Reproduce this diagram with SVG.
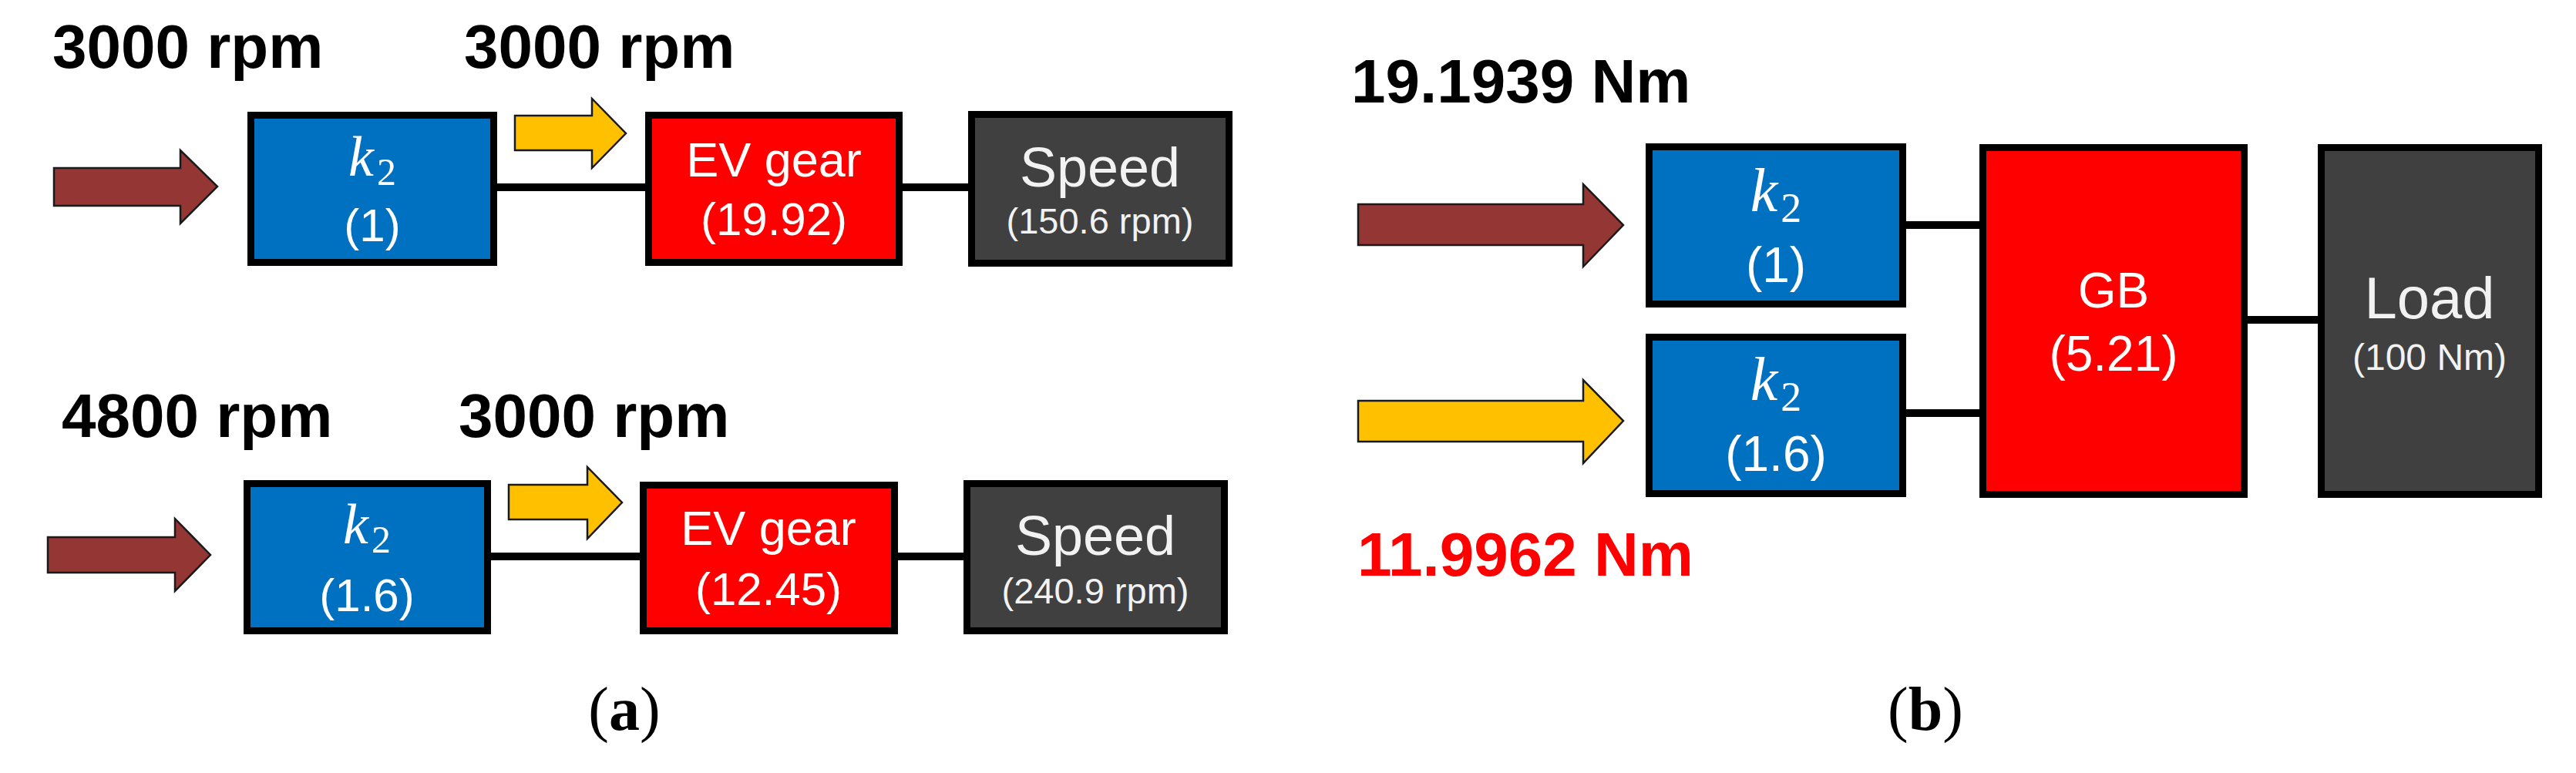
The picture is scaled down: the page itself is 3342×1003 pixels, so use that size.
<svg xmlns="http://www.w3.org/2000/svg" width="3342" height="1003" viewBox="0 0 3342 1003">
<style>
.box{stroke:#000;stroke-width:9}
.blue{fill:#0070C0}
.red{fill:#FF0000}
.dark{fill:#404040}
.brown{fill:#943634;stroke:#1a1a1a;stroke-width:2.5}
.yellow{fill:#FFC000;stroke:#1a1a1a;stroke-width:2.5}
.wire{stroke:#000;stroke-width:10;fill:none}
.lbl{font-family:"Liberation Sans",Arial,sans-serif;font-weight:bold;font-size:80px;fill:#000}
.t{font-family:"Liberation Sans",Arial,sans-serif;fill:#fff;text-anchor:middle}
.tg{font-family:"Liberation Sans",Arial,sans-serif;fill:#f2f2f2;text-anchor:middle}
.k{font-family:"Liberation Serif","Times New Roman",serif;fill:#fff;text-anchor:middle}
.cap{font-family:"Liberation Serif","Times New Roman",serif;font-size:80px;fill:#000;text-anchor:middle}
</style>
<rect x="0" y="0" width="3342" height="1003" fill="#fff"/>

<g id="connectors">
<line class="wire" x1="645" y1="243" x2="837" y2="243"/>
<line class="wire" x1="1171" y1="243" x2="1257" y2="243"/>
<line class="wire" x1="637" y1="722" x2="830" y2="722"/>
<line class="wire" x1="1165" y1="722" x2="1250" y2="722"/>
<line class="wire" x1="2473" y1="292" x2="2568" y2="292"/>
<line class="wire" x1="2473" y1="536" x2="2568" y2="536"/>
<line class="wire" x1="2916" y1="415" x2="3007" y2="415"/>
</g>

<g id="arrows">
<polygon id="arrow-a1-in" class="brown" points="70,218 234,218 234,195 282,242 234,290 234,267 70,267"/>
<polygon id="arrow-a1-out" class="yellow" points="668,150 768,150 768,128 812,173 768,218 768,195 668,195"/>
<polygon id="arrow-a2-in" class="brown" points="62,697 227,697 227,673 273,720 227,767 227,743 62,743"/>
<polygon id="arrow-a2-out" class="yellow" points="660,629 762,629 762,606 807,652 762,699 762,674 660,674"/>
<polygon id="arrow-b-top" class="brown" points="1762,265 2054,265 2054,239 2106,292 2054,346 2054,318 1762,318"/>
<polygon id="arrow-b-bot" class="yellow" points="1762,520 2054,520 2054,493 2106,546 2054,601 2054,573 1762,573"/>
</g>

<g id="labels">
<text class="lbl" x="68" y="88">3000 rpm</text>
<text class="lbl" x="602" y="88">3000 rpm</text>
<text class="lbl" x="80" y="567">4800 rpm</text>
<text class="lbl" x="595" y="567">3000 rpm</text>
<text class="lbl" x="1753" y="133" font-size="84">19.1939 Nm</text>
<text class="lbl" x="1761" y="747" font-size="84" fill="#FF0000" style="fill:#FF0000">11.9962 Nm</text>
<text class="cap" x="810" y="947">(<tspan font-weight="bold">a</tspan>)</text>
<text class="cap" x="2498" y="947">(<tspan font-weight="bold">b</tspan>)</text>
</g>

<g id="k2-a1">
<rect class="box blue" x="325.5" y="149.5" width="315" height="191"/>
<text class="k" x="483" y="228"><tspan font-style="italic" font-size="74">k</tspan><tspan font-size="50" dx="4" dy="12">2</tspan></text>
<text class="t" x="483" y="313" font-size="60">(1)</text>
</g>

<g id="evgear-a1">
<rect class="box red" x="841.5" y="149.5" width="325" height="191"/>
<text class="t" x="1004" y="229" font-size="63">EV gear</text>
<text class="t" x="1004" y="305" font-size="60">(19.92)</text>
</g>

<g id="speed-a1">
<rect class="box dark" x="1260.5" y="148.5" width="334" height="193"/>
<text class="tg" x="1427" y="242" font-size="72">Speed</text>
<text class="tg" x="1427" y="303" font-size="47">(150.6 rpm)</text>
</g>

<g id="k2-a2">
<rect class="box blue" x="320.5" y="627.5" width="312" height="191"/>
<text class="k" x="476" y="705"><tspan font-style="italic" font-size="74">k</tspan><tspan font-size="50" dx="4" dy="12">2</tspan></text>
<text class="t" x="476" y="793" font-size="60">(1.6)</text>
</g>

<g id="evgear-a2">
<rect class="box red" x="834.5" y="629.5" width="326" height="189"/>
<text class="t" x="997" y="707" font-size="63">EV gear</text>
<text class="t" x="997" y="785" font-size="60">(12.45)</text>
</g>

<g id="speed-a2">
<rect class="box dark" x="1254.5" y="627.5" width="334" height="191"/>
<text class="tg" x="1421" y="720" font-size="72">Speed</text>
<text class="tg" x="1421" y="783" font-size="47">(240.9 rpm)</text>
</g>

<g id="k2-b1">
<rect class="box blue" x="2139.5" y="190.5" width="329" height="204"/>
<text class="k" x="2304" y="274"><tspan font-style="italic" font-size="80">k</tspan><tspan font-size="54" dx="4" dy="14">2</tspan></text>
<text class="t" x="2304" y="366" font-size="64">(1)</text>
</g>

<g id="k2-b2">
<rect class="box blue" x="2139.5" y="437.5" width="329" height="203"/>
<text class="k" x="2304" y="519"><tspan font-style="italic" font-size="80">k</tspan><tspan font-size="54" dx="4" dy="14">2</tspan></text>
<text class="t" x="2304" y="611" font-size="64">(1.6)</text>
</g>

<g id="gb-b">
<rect class="box red" x="2572.5" y="191.5" width="339" height="450"/>
<text class="t" x="2742" y="399" font-size="64">GB</text>
<text class="t" x="2742" y="481" font-size="64">(5.21)</text>
</g>

<g id="load-b">
<rect class="box dark" x="3011.5" y="191.5" width="282" height="450"/>
<text class="tg" x="3152" y="413" font-size="76">Load</text>
<text class="tg" x="3152" y="480" font-size="48">(100 Nm)</text>
</g>
</svg>
